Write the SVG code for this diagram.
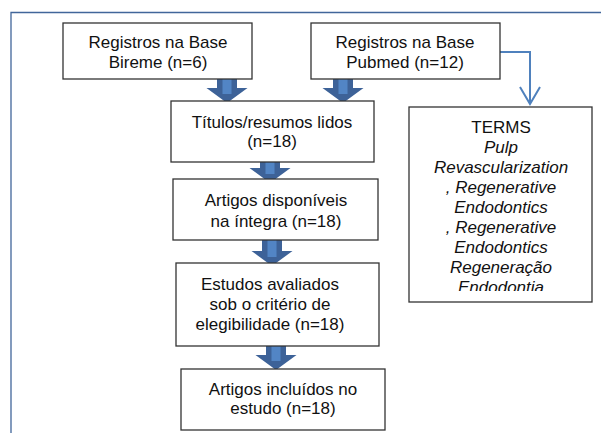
<svg xmlns="http://www.w3.org/2000/svg" width="601" height="433" viewBox="0 0 601 433">
<style>
.box{fill:#fff;stroke:#333;stroke-width:1.3}
.t{font-family:"Liberation Sans",Arial,sans-serif;font-size:17px;fill:#111;text-anchor:middle}
.i{font-style:italic}
.thin{fill:none;stroke:#4F81BD;stroke-width:2}
</style>
<defs>
<g id="barrow">
<path d="M-10,-26 H10 V-15 H20.5 L0,0 L-20.5,-15 H-10 Z" fill="#3D6298"/>
<rect x="-4.5" y="-26" width="9" height="17" fill="#5285C5"/>
</g>
<clipPath id="termsclip"><rect x="409" y="107" width="183" height="184"/></clipPath>
</defs>
<rect width="601" height="433" fill="#fff"/>
<path d="M11,433 V12.5 H601" fill="none" stroke="#41669A" stroke-width="1.3"/>
<g id="connectors">
<use href="#barrow" transform="translate(227,103)"/>
<use href="#barrow" transform="translate(343,103)"/>
<use href="#barrow" transform="translate(270,183)"/>
<use href="#barrow" transform="translate(272,266)"/>
<use href="#barrow" transform="translate(276,370)"/>
<path class="thin" d="M500,52 H530 V104"/>
<path class="thin" d="M520,87 L530,104 L540,87"/>
</g>
<g id="bireme">
<rect class="box" x="63" y="23" width="189" height="56"/>
<text class="t" x="158" y="48">Registros na Base</text>
<text class="t" x="158" y="68">Bireme (n=6)</text>
</g>
<g id="pubmed">
<rect class="box" x="311" y="23" width="189" height="56"/>
<text class="t" x="405" y="48">Registros na Base</text>
<text class="t" x="405" y="68">Pubmed (n=12)</text>
</g>
<g id="titulos">
<rect class="box" x="171" y="101" width="203" height="61"/>
<text class="t" x="272" y="128">Títulos/resumos lidos</text>
<text class="t" x="272" y="147">(n=18)</text>
</g>
<g id="artigos">
<rect class="box" x="173" y="179" width="205" height="61"/>
<text class="t" x="276" y="206">Artigos disponíveis</text>
<text class="t" x="276" y="227">na íntegra (n=18)</text>
</g>
<g id="estudos">
<rect class="box" x="176" y="263" width="203" height="83"/>
<text class="t" x="270" y="290">Estudos avaliados</text>
<text class="t" x="270" y="310">sob o critério de</text>
<text class="t" x="270" y="330">elegibilidade (n=18)</text>
</g>
<g id="incluidos">
<rect class="box" x="181" y="369" width="204" height="61"/>
<text class="t" x="283" y="395">Artigos incluídos no</text>
<text class="t" x="283" y="414">estudo (n=18)</text>
</g>
<g id="terms">
<rect class="box" x="409" y="107" width="183" height="195"/>
<g clip-path="url(#termsclip)">
<text class="t" x="501" y="133">TERMS</text>
<text class="t i" x="501" y="153">Pulp</text>
<text class="t i" x="501" y="173">Revascularization</text>
<text class="t i" x="501" y="193">, Regenerative</text>
<text class="t i" x="501" y="213">Endodontics</text>
<text class="t i" x="501" y="233">, Regenerative</text>
<text class="t i" x="501" y="253">Endodontics</text>
<text class="t i" x="501" y="273">Regeneração</text>
<text class="t i" x="501" y="293">Endodontia</text>
</g>
</g>
</svg>
